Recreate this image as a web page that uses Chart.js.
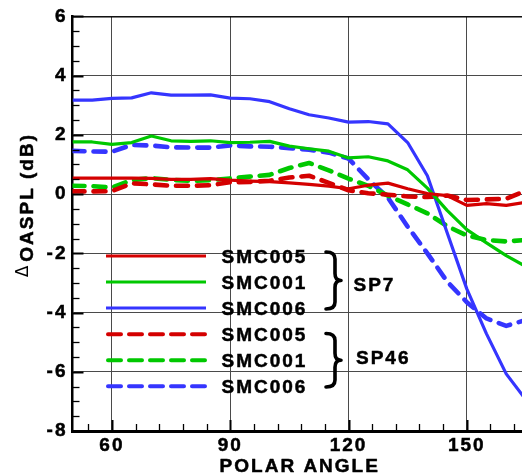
<!DOCTYPE html>
<html><head><meta charset="utf-8">
<script src="https://cdn.jsdelivr.net/npm/chart.js@4"></script>
<style>html,body{margin:0;padding:0;background:#fff;overflow:hidden}</style>
</head><body>
<canvas id="c" width="522" height="476"></canvas>
<script>
// ---- data ----
const angles = [50,55,60,65,70,75,80,85,90,95,100,105,110,115,120,125,130,135,140,145,150,155,160,165];
const smc005_sp7  = [0.54,0.54,0.54,0.54,0.53,0.50,0.50,0.52,0.47,0.44,0.42,0.38,0.33,0.27,0.18,0.30,0.37,0.18,0.02,-0.05,-0.38,-0.32,-0.38,-0.28];
const smc001_sp7  = [1.76,1.76,1.68,1.74,1.96,1.80,1.78,1.80,1.74,1.75,1.78,1.62,1.53,1.45,1.22,1.26,1.12,0.82,0.20,-0.55,-1.20,-1.65,-2.08,-2.45];
const smc006_sp7  = [3.17,3.17,3.23,3.25,3.42,3.34,3.34,3.35,3.24,3.22,3.12,2.88,2.68,2.57,2.43,2.45,2.37,1.74,0.62,-1.30,-3.20,-4.72,-6.07,-6.95];
const smc005_sp46 = [0.09,0.09,0.10,0.36,0.33,0.28,0.28,0.30,0.40,0.41,0.45,0.56,0.62,0.38,0.13,0.03,-0.02,-0.08,-0.10,-0.05,-0.20,-0.18,-0.16,0.12];
const smc001_sp46 = [0.28,0.27,0.22,0.47,0.54,0.48,0.45,0.47,0.53,0.59,0.65,0.88,1.05,0.80,0.52,0.28,-0.05,-0.35,-0.65,-1.08,-1.40,-1.55,-1.60,-1.55];
const smc006_sp46 = [1.46,1.44,1.43,1.66,1.64,1.58,1.57,1.57,1.64,1.61,1.60,1.55,1.50,1.40,1.20,0.50,-0.12,-1.10,-2.00,-2.95,-3.65,-4.20,-4.45,-4.25];

const seriesLabels = ['SMC005','SMC001','SMC006'];
const groupLabels = ['SP7','SP46'];
const xTicks = [60,90,120,150];
const yTicks = [-8,-6,-4,-2,0,2,4,6];
const xMin = 50, xMax = 164, yMin = -8, yMax = 6;
const xMinorStep = 6, yMinorStep = 0.5;
const xTitle = 'POLAR ANGLE';
const yTitleSymbol = '\u0394';
const yTitle = 'OASPL (dB)';

// ---- styles ----
const colors = ['#d40000', '#00c800', '#3535ff'];
const FONT = '"Liberation Sans", Arial, Helvetica, sans-serif';
const SP = '2px';

const pts = arr => angles.map((a, i) => ({x: a, y: arr[i]}));
const solid = (label, data, c) => ({label, data: pts(data), borderColor: c, borderWidth: 3.2, pointRadius: 0, tension: 0, fill: false, borderJoinStyle: 'round'});
const dashed = (label, data, c) => ({label, data: pts(data), borderColor: c, borderWidth: 4.6, borderDash: [12, 9], borderCapStyle: 'round', borderJoinStyle: 'round', pointRadius: 0, tension: 0, fill: false});

const datasets = [
  solid(seriesLabels[0] + ' ' + groupLabels[0], smc005_sp7, colors[0]),
  solid(seriesLabels[1] + ' ' + groupLabels[0], smc001_sp7, colors[1]),
  solid(seriesLabels[2] + ' ' + groupLabels[0], smc006_sp7, colors[2]),
  dashed(seriesLabels[0] + ' ' + groupLabels[1], smc005_sp46, colors[0]),
  dashed(seriesLabels[1] + ' ' + groupLabels[1], smc001_sp46, colors[1]),
  dashed(seriesLabels[2] + ' ' + groupLabels[1], smc006_sp46, colors[2]),
];

function drawBrace(ctx, x, yTop, yBot, w) {
  const xm = x + w * 0.6, xt = x + w, ym = (yTop + yBot) / 2;
  ctx.beginPath();
  ctx.moveTo(x, yTop);
  ctx.quadraticCurveTo(xm, yTop, xm, yTop + 7);
  ctx.lineTo(xm, ym - 7);
  ctx.quadraticCurveTo(xm, ym, xt, ym);
  ctx.quadraticCurveTo(xm, ym, xm, ym + 7);
  ctx.lineTo(xm, yBot - 7);
  ctx.quadraticCurveTo(xm, yBot, x, yBot);
  ctx.stroke();
}

function boldText(ctx, t, x, y) {
  ctx.fillText(t, x, y);
  ctx.lineWidth = 0.5; ctx.strokeStyle = '#000';
  ctx.strokeText(t, x, y);
}

const decor = {
  id: 'decor',
  beforeDraw(chart) { chart.ctx.letterSpacing = SP; },
  afterDraw(chart) {
    const ctx = chart.ctx, a = chart.chartArea;
    const xs = chart.scales.x, ys = chart.scales.y;
    ctx.save();
    ctx.letterSpacing = '0px';
    // top frame line
    ctx.strokeStyle = '#000'; ctx.lineWidth = 1.3;
    ctx.beginPath(); ctx.moveTo(a.left, a.top + 0.5); ctx.lineTo(a.right, a.top + 0.5); ctx.stroke();
    // inner ticks, y axis
    for (let v = yMin; v <= yMax + 1e-9; v += yMinorStep) {
      const major = yTicks.includes(v);
      const py = Math.round(ys.getPixelForValue(v)) + 0.5;
      ctx.lineWidth = major ? 2 : 1.3;
      ctx.beginPath(); ctx.moveTo(a.left, py); ctx.lineTo(a.left + (major ? 11 : 7), py); ctx.stroke();
    }
    // inner ticks, x axis
    for (let v = 54; v <= xMax; v += xMinorStep) {
      const major = xTicks.includes(v);
      const px = Math.round(xs.getPixelForValue(v)) + 0.5;
      ctx.lineWidth = major ? 2 : 1.3;
      ctx.beginPath(); ctx.moveTo(px, a.bottom); ctx.lineTo(px, a.bottom - (major ? 11 : 7)); ctx.stroke();
    }
    // legend
    const rowY0 = 256, rowStep = 26.05, lx0 = 106, lx1 = 206, tx = 221.5;
    chart.data.datasets.forEach((ds, i) => {
      const y = rowY0 + i * rowStep;
      ctx.strokeStyle = ds.borderColor;
      ctx.lineWidth = i < 3 ? 3 : 4;
      ctx.lineCap = ds.borderDash ? 'round' : 'butt';
      ctx.beginPath();
      if (ds.borderDash) { ctx.setLineDash([13, 8]); ctx.moveTo(lx0 + 2, y); ctx.lineTo(lx1 - 1, y); }
      else { ctx.setLineDash([]); ctx.moveTo(lx0, y); ctx.lineTo(lx1, y); }
      ctx.stroke();
      ctx.setLineDash([]);
      ctx.fillStyle = '#000';
      ctx.font = 'bold 19px ' + FONT;
      ctx.letterSpacing = SP;
      ctx.textAlign = 'left'; ctx.textBaseline = 'alphabetic';
      boldText(ctx, seriesLabels[i % 3], tx, y + 6.8);
      ctx.letterSpacing = '0px';
    });
    // braces
    ctx.strokeStyle = '#000'; ctx.lineWidth = 3.6; ctx.lineCap = 'round'; ctx.lineJoin = 'round';
    drawBrace(ctx, 326, 252, 309, 15);
    drawBrace(ctx, 326, 333.5, 387, 15);
    ctx.fillStyle = '#000';
    ctx.font = 'bold 19px ' + FONT;
    ctx.letterSpacing = SP;
    ctx.textAlign = 'left'; ctx.textBaseline = 'alphabetic';
    boldText(ctx, groupLabels[0], 353.5, 290.8);
    boldText(ctx, groupLabels[1], 356, 363.8);
    // x title
    ctx.textAlign = 'center';
    boldText(ctx, xTitle, (a.left + a.right) / 2 + 2.5, 472);
    // y title
    ctx.save();
    ctx.translate(33.3, 276.7);
    ctx.rotate(-Math.PI / 2);
    ctx.textAlign = 'left';
    ctx.letterSpacing = '0px';
    ctx.font = '17px "DejaVu Sans", sans-serif';
    ctx.fillText(yTitleSymbol, -0.5, -5.8);
    ctx.letterSpacing = SP;
    ctx.font = 'bold 19px ' + FONT;
    boldText(ctx, yTitle, 15, 0);
    ctx.restore();
    ctx.restore();
  }
};

const tickFont = {family: FONT, size: 19, weight: 'bold'};
new Chart(document.getElementById('c'), {
  type: 'line',
  data: {datasets},
  plugins: [decor],
  options: {
    responsive: false, animation: false, devicePixelRatio: 1,
    layout: {padding: {top: 15, left: 0, right: 0, bottom: 0}},
    plugins: {legend: {display: false}, tooltip: {enabled: false}},
    scales: {
      x: {
        type: 'linear', min: xMin, max: xMax,
        afterBuildTicks: s => { s.ticks = xTicks.map(v => ({value: v})); },
        afterFit: s => { s.height = 45; },
        grid: {color: '#4a4a4a', lineWidth: 1, drawTicks: false},
        border: {color: '#000', width: 3},
        ticks: {font: tickFont, color: '#000', padding: 3, maxRotation: 0, autoSkip: false, textStrokeColor: '#000', textStrokeWidth: 0.5}
      },
      y: {
        type: 'linear', min: yMin, max: yMax,
        afterBuildTicks: s => { s.ticks = yTicks.map(v => ({value: v})); },
        afterFit: s => { s.width = 72.5; },
        grid: {color: '#4a4a4a', lineWidth: 1, drawTicks: false},
        border: {color: '#000', width: 2.5},
        ticks: {font: tickFont, color: '#000', padding: 5, autoSkip: false, textStrokeColor: '#000', textStrokeWidth: 0.5}
      }
    }
  }
});
</script>
</body></html>
